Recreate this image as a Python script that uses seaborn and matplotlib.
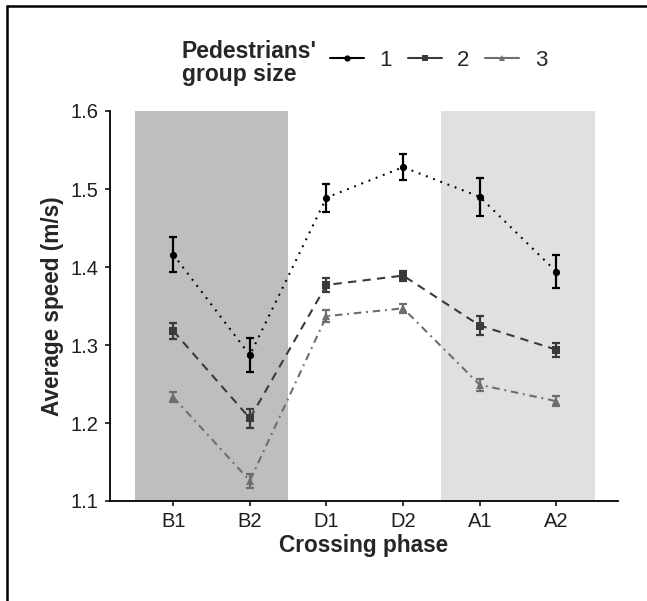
import matplotlib
matplotlib.use("Agg")
import matplotlib.pyplot as plt
from matplotlib.lines import Line2D
import seaborn as sns
import pandas as pd
import numpy as np

# ---- data ----
phases = ["B1", "B2", "D1", "D2", "A1", "A2"]
group_sizes = ["1", "2", "3"]
speed_1 = [1.416, 1.287, 1.489, 1.528, 1.490, 1.394]
err_1 = [0.022, 0.022, 0.018, 0.017, 0.024, 0.021]
speed_2 = [1.318, 1.206, 1.377, 1.389, 1.325, 1.294]
err_2 = [0.010, 0.012, 0.0085, 0.0065, 0.012, 0.009]
speed_3 = [1.233, 1.126, 1.337, 1.347, 1.249, 1.228]
err_3 = [0.0065, 0.009, 0.0075, 0.006, 0.0075, 0.0065]

speeds = {"1": speed_1, "2": speed_2, "3": speed_3}
errs = {"1": err_1, "2": err_2, "3": err_3}

rows = []
for g in group_sizes:
    for i, ph in enumerate(phases):
        rows.append({"pos": i, "phase": ph, "group": g,
                     "speed": speeds[g][i], "err": errs[g][i]})
df = pd.DataFrame(rows)

colors = {"1": "#000000", "2": "#3a3a3a", "3": "#6e6e6e"}
markers = {"1": "o", "2": "s", "3": "^"}
dashes = {"1": (0.9, 2.8), "2": (4.0, 3.0), "3": (3.6, 2.3, 0.9, 2.3)}

sns.set_theme(style="white")
plt.rcParams["font.family"] = ["Liberation Sans", "DejaVu Sans"]

fig = plt.figure(figsize=(6.47, 6.01), dpi=100)
ax = fig.add_axes([110 / 647, 100 / 601, 508 / 647, 390 / 601])

ax.axvspan(-0.5, 1.5, color="#bebebe", lw=0, zorder=0)
ax.axvspan(3.5, 5.5, color="#e0e0e0", lw=0, zorder=0)

sns.lineplot(data=df, x="pos", y="speed", hue="group", style="group",
             palette=colors, markers=markers, dashes=dashes, lw=1.5,
             markersize=5.2, markeredgewidth=0, ax=ax, zorder=3, legend=False)

for g in group_sizes:
    sub = df[df["group"] == g]
    ax.errorbar(sub["pos"], sub["speed"], yerr=sub["err"], fmt="none",
                ecolor=colors[g], elinewidth=1.6, capsize=2.8, capthick=1.6,
                zorder=4)

ax.set_xlim(-0.826, 5.805)
ax.set_ylim(1.1, 1.6)
ax.set_xticks(range(len(phases)))
ax.set_xticklabels(phases)
ax.set_yticks([1.1, 1.2, 1.3, 1.4, 1.5, 1.6])
ax.set_yticklabels(["1.1", "1.2", "1.3", "1.4", "1.5", "1.6"])
ax.tick_params(axis="both", labelsize=14.5, labelcolor="#1e1e1e",
               length=3.6, width=1.1, color="#000000", pad=4.5,
               bottom=True, left=True)
for s in ["top", "right"]:
    ax.spines[s].set_visible(False)
for s in ["left", "bottom"]:
    ax.spines[s].set_color("black")
    ax.spines[s].set_linewidth(1.3)
ax.set_xlabel("Crossing phase", fontsize=16.3, fontweight="bold", labelpad=2)
ax.set_ylabel("Average speed (m/s)", fontsize=16.3, fontweight="bold", labelpad=5)

# legend (ggplot style, horizontal at top)
fig.text(182 / 647, 1 - 63 / 601, "Pedestrians'\ngroup size", fontsize=16.5,
         fontweight="bold", ha="left", va="center", linespacing=1.0)
handles = [Line2D([0], [0], color=colors[g], marker=markers[g], lw=1.5,
                  markersize=4.5, markeredgewidth=0) for g in group_sizes]
fig.legend(handles, group_sizes, loc="center left",
           bbox_to_anchor=(330 / 647, 1 - 60 / 601), ncol=3, frameon=False,
           fontsize=16, handlelength=1.53, handletextpad=0.7,
           columnspacing=0.7, borderpad=0, borderaxespad=0)

# frame lines (top and left)
fig.add_artist(Line2D([7 / 647, 1.0], [1 - 6 / 601, 1 - 6 / 601],
                      color="black", lw=1.8, transform=fig.transFigure))
fig.add_artist(Line2D([7 / 647, 7 / 647], [0, 1 - 6 / 601],
                      color="black", lw=1.8, transform=fig.transFigure))

fig.savefig("out.png", dpi=100, facecolor="white")
